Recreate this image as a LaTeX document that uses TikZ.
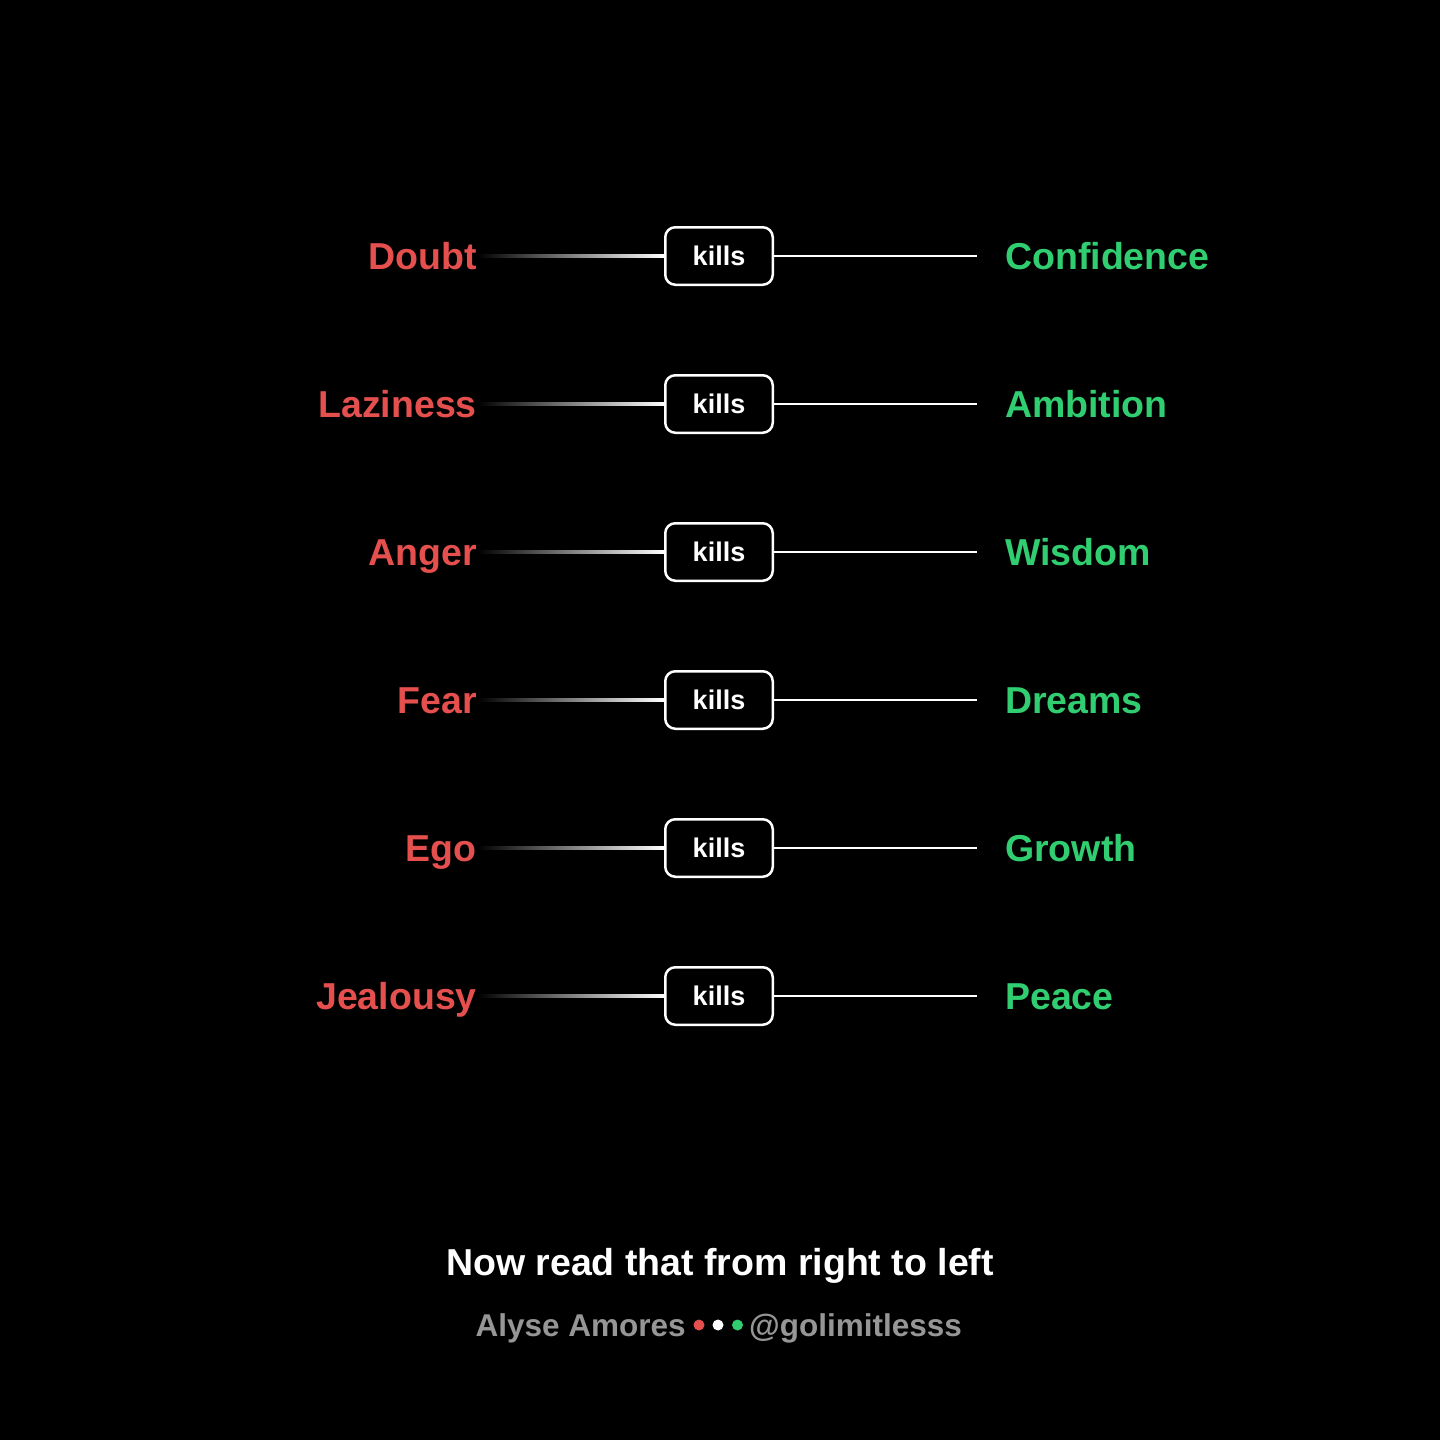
\documentclass[tikz,border=0pt]{standalone}
\usepackage{fontspec}
\setmainfont{Liberation Sans}
\usepackage{tikz}
\usetikzlibrary{positioning}

\definecolor{badred}{RGB}{229,80,78}
\definecolor{goodgreen}{RGB}{48,206,112}
\definecolor{footgray}{RGB}{150,150,150}

\tikzset{
	killbox/.style={draw=white, fill=black, line width=2.5pt, rounded corners=10pt,
		minimum width=107.5pt, minimum height=57.5pt, inner sep=0pt, text=white,
		font=\fontsize{27}{32}\selectfont\bfseries},
	badword/.style={anchor=base east, inner sep=0pt, text=badred,
		font=\fontsize{37.5}{44}\selectfont\bfseries},
	goodword/.style={anchor=base west, inner sep=0pt, text=goodgreen,
		font=\fontsize{37.5}{44}\selectfont\bfseries},
	fade/.style={left color=black, right color=white},
	link/.style={draw=white, line width=2.5pt, shorten >=28pt},
	dot/.style={circle, inner sep=0pt, minimum size=11pt}
}

\begin{document}
\begin{tikzpicture}[x=1pt, y=-1pt]
	\fill[black] (0,0) rectangle (1440,1440);
	\useasboundingbox (0,0) rectangle (1440,1440);

	\node [killbox] (k1) at (719, 256) {kills};
	\node [badword] (doubt) at (477, 269) {Doubt};
	\node [goodword] (confidence) at (1005, 269) {Confidence};
	\shade [fade] (doubt.base east |- k1.west) ++(0,1.25) rectangle ([yshift=1.25pt]k1.west);
	\draw [link] (k1.east) -- (k1.east -| confidence.west);

	\node [killbox] (k2) at (719, 404) {kills};
	\node [badword] (laziness) at (477, 417) {Laziness};
	\node [goodword] (ambition) at (1005, 417) {Ambition};
	\shade [fade] (laziness.base east |- k2.west) ++(0,1.25) rectangle ([yshift=1.25pt]k2.west);
	\draw [link] (k2.east) -- (k2.east -| ambition.west);

	\node [killbox] (k3) at (719, 552) {kills};
	\node [badword] (anger) at (477, 565) {Anger};
	\node [goodword] (wisdom) at (1005, 565) {Wisdom};
	\shade [fade] (anger.base east |- k3.west) ++(0,1.25) rectangle ([yshift=1.25pt]k3.west);
	\draw [link] (k3.east) -- (k3.east -| wisdom.west);

	\node [killbox] (k4) at (719, 700) {kills};
	\node [badword] (fear) at (477, 713) {Fear};
	\node [goodword] (dreams) at (1005, 713) {Dreams};
	\shade [fade] (fear.base east |- k4.west) ++(0,1.25) rectangle ([yshift=1.25pt]k4.west);
	\draw [link] (k4.east) -- (k4.east -| dreams.west);

	\node [killbox] (k5) at (719, 848) {kills};
	\node [badword] (ego) at (477, 861) {Ego};
	\node [goodword] (growth) at (1005, 861) {Growth};
	\shade [fade] (ego.base east |- k5.west) ++(0,1.25) rectangle ([yshift=1.25pt]k5.west);
	\draw [link] (k5.east) -- (k5.east -| growth.west);

	\node [killbox] (k6) at (719, 996) {kills};
	\node [badword] (jealousy) at (477, 1009) {Jealousy};
	\node [goodword] (peace) at (1005, 1009) {Peace};
	\shade [fade] (jealousy.base east |- k6.west) ++(0,1.25) rectangle ([yshift=1.25pt]k6.west);
	\draw [link] (k6.east) -- (k6.east -| peace.west);

	% Footer
	\node [anchor=base, inner sep=0pt, text=white, font=\fontsize{37.5}{44}\selectfont\bfseries]
		(readnote) at (720, 1275) {Now read that from right to left};
	\node [anchor=base east, inner sep=0pt, text=footgray, font=\fontsize{31.5}{36}\selectfont\bfseries]
		(author) at (686, 1336) {Alyse Amores};
	\node [dot, fill=badred] (dotr) at (699, 1325) {};
	\node [dot, fill=white] (dotw) at (718, 1325) {};
	\node [dot, fill=goodgreen] (dotg) at (737.5, 1325) {};
	\node [anchor=base west, inner sep=0pt, text=footgray, font=\fontsize{31.5}{36}\selectfont\bfseries]
		(handle) at (749, 1336) {@golimitlesss};
\end{tikzpicture}
\end{document}
